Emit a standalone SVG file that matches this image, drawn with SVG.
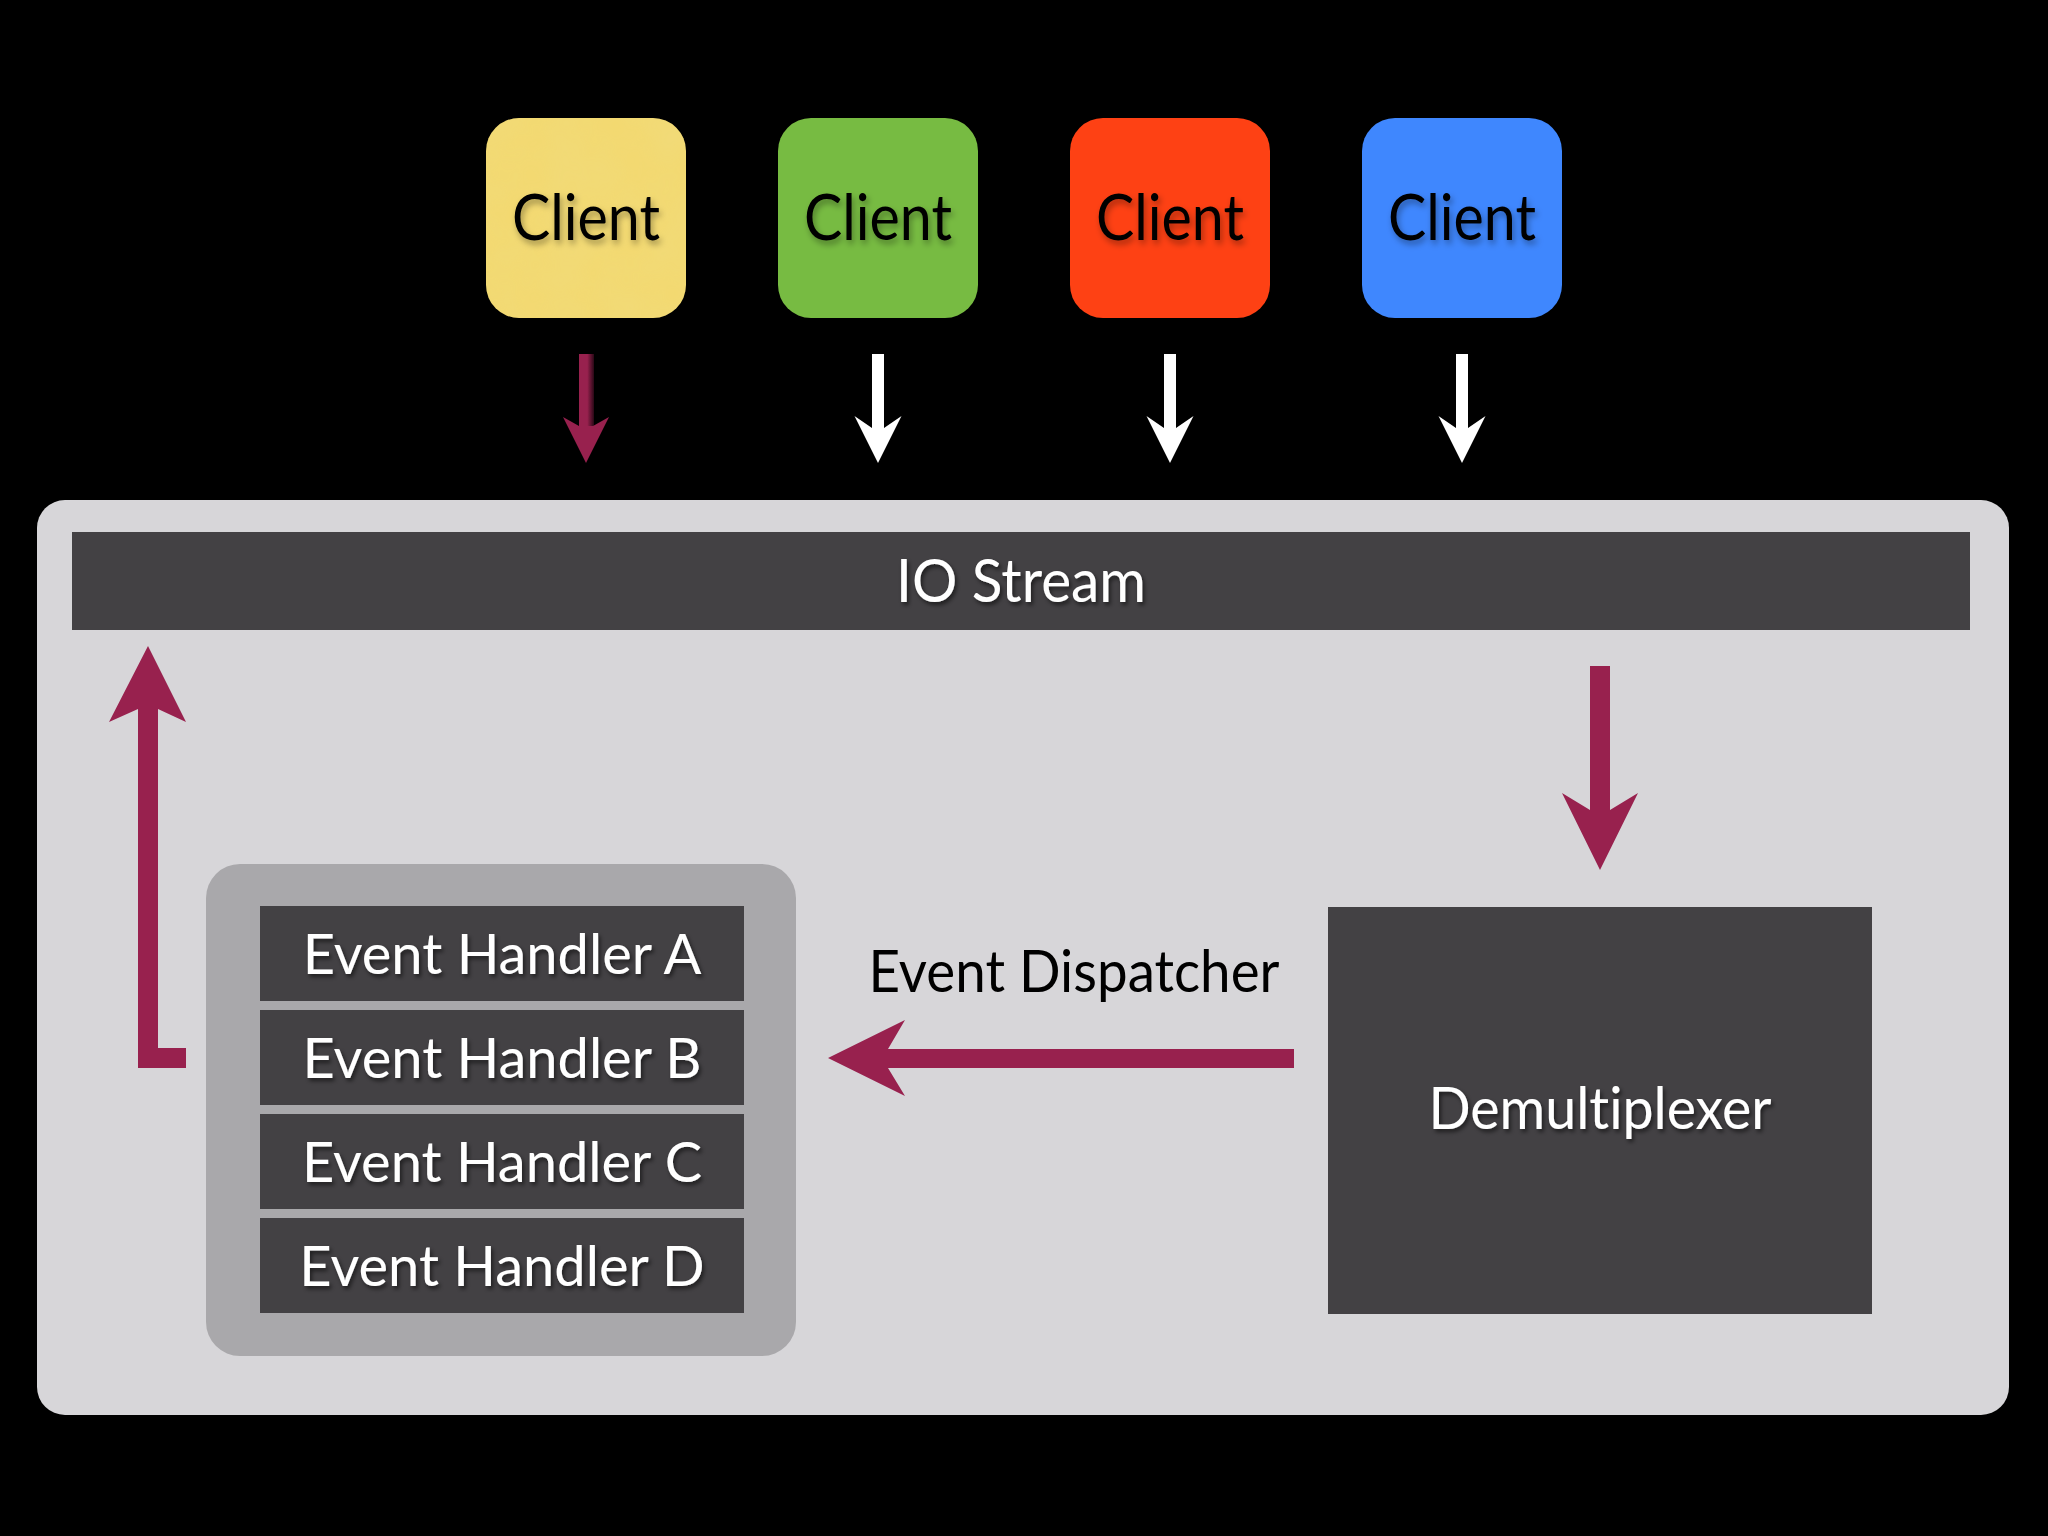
<svg xmlns="http://www.w3.org/2000/svg" xmlns:xlink="http://www.w3.org/1999/xlink" width="2048" height="1536" viewBox="0 0 2048 1536">
  <defs>
    <style>
      .bar { fill: #434144; }
      .lbl { font-family: Lato, "Open Sans", "Noto Sans", sans-serif; font-weight: 400; text-anchor: middle; font-variant-ligatures: none; font-feature-settings: "liga" 0, "clig" 0; }
      .white { fill: #ffffff; filter: url(#shadowW); }
      .client { fill: #000000; font-size: 63px; filter: url(#shadowK); }
      .handler { font-size: 56px; }
      .maroon { fill: #98214e; }
      .warrow { fill: #ffffff; }
    </style>
    <filter id="shadowW" x="-10%" y="-30%" width="120%" height="160%">
      <feDropShadow dx="2" dy="3" stdDeviation="2" flood-color="#000000" flood-opacity="0.55"/>
    </filter>
    <filter id="shadowK" x="-10%" y="-30%" width="120%" height="160%">
      <feDropShadow dx="2" dy="4" stdDeviation="3" flood-color="#000000" flood-opacity="0.35"/>
    </filter>
    <filter id="paper" x="0" y="0" width="100%" height="100%">
      <feTurbulence type="fractalNoise" baseFrequency="0.02" numOctaves="3" seed="4" result="n"/>
      <feColorMatrix in="n" type="matrix" values="0 0 0 0 0.85  0 0 0 0 0.72  0 0 0 0 0.25  0 0 0 0.35 -0.05" result="c"/>
      <feComposite in="c" in2="SourceGraphic" operator="in"/>
    </filter>
    <linearGradient id="fadeShaft" x1="0" y1="0" x2="1" y2="0">
      <stop offset="0" stop-color="#98214e"/>
      <stop offset="0.55" stop-color="#98214e"/>
      <stop offset="1" stop-color="#2a0816"/>
    </linearGradient>
    <path id="wArrow" class="warrow" d="M -6 354 L 6 354 L 6 428 L 23.5 416 L 0 463 L -23.5 416 L -6 428 Z"/>
  </defs>

  <rect x="0" y="0" width="2048" height="1536" fill="#000000"/>

  <!-- Clients -->
  <g id="client-yellow">
    <rect x="486" y="118" width="200" height="200" rx="33" fill="#f3d970"/>
    <rect x="486" y="118" width="200" height="200" rx="33" fill="#f3d970" filter="url(#paper)"/>
    <text class="lbl client" x="586" y="240" textLength="148" lengthAdjust="spacingAndGlyphs">Client</text>
  </g>
  <g id="client-green">
    <rect x="778" y="118" width="200" height="200" rx="33" fill="#77bb42"/>
    <text class="lbl client" x="878" y="240" textLength="148" lengthAdjust="spacingAndGlyphs">Client</text>
  </g>
  <g id="client-red">
    <rect x="1070" y="118" width="200" height="200" rx="33" fill="#fe4114"/>
    <text class="lbl client" x="1170" y="240" textLength="148" lengthAdjust="spacingAndGlyphs">Client</text>
  </g>
  <g id="client-blue">
    <rect x="1362" y="118" width="200" height="200" rx="33" fill="#3f87fe"/>
    <text class="lbl client" x="1462" y="240" textLength="148" lengthAdjust="spacingAndGlyphs">Client</text>
  </g>

  <!-- Main container -->
  <g id="server">
    <rect x="37" y="500" width="1972" height="915" rx="28" fill="#d7d6d9"/>
  </g>

  <g id="io-stream">
    <rect class="bar" x="72" y="532" width="1898" height="98"/>
    <text class="lbl white" x="1021" y="602" font-size="60" textLength="250" lengthAdjust="spacingAndGlyphs">IO Stream</text>
  </g>

  <g id="demultiplexer">
    <rect class="bar" x="1328" y="907" width="544" height="407"/>
    <text class="lbl white" x="1600" y="1129" font-size="58" textLength="343" lengthAdjust="spacingAndGlyphs">Demultiplexer</text>
  </g>

  <g id="handlers">
    <rect x="206" y="864" width="590" height="492" rx="34" fill="#a9a8ab"/>
    <g id="handler-a">
      <rect class="bar" x="260" y="906" width="484" height="95"/>
      <text class="lbl white handler" x="502" y="974">Event Handler A</text>
    </g>
    <g id="handler-b">
      <rect class="bar" x="260" y="1010" width="484" height="95"/>
      <text class="lbl white handler" x="502" y="1078">Event Handler B</text>
    </g>
    <g id="handler-c">
      <rect class="bar" x="260" y="1114" width="484" height="95"/>
      <text class="lbl white handler" x="502" y="1182">Event Handler C</text>
    </g>
    <g id="handler-d">
      <rect class="bar" x="260" y="1218" width="484" height="95"/>
      <text class="lbl white handler" x="502" y="1286">Event Handler D</text>
    </g>
  </g>

  <!-- Connectors -->
  <g id="connectors">
    <g id="arrow-client-yellow">
      <rect x="579" y="354" width="15" height="72" fill="url(#fadeShaft)"/>
      <path class="maroon" d="M 579 426 L 563 417 L 586 463 L 609 417 L 593 426 Z"/>
    </g>
    <use href="#wArrow" xlink:href="#wArrow" x="878" y="0"/>
    <use href="#wArrow" xlink:href="#wArrow" x="1170" y="0"/>
    <use href="#wArrow" xlink:href="#wArrow" x="1462" y="0"/>

    <path id="arrow-io-demux" class="maroon" d="M 1590 666 L 1610 666 L 1610 810 L 1638 793 L 1600 870 L 1562 793 L 1590 810 Z"/>
    <path id="arrow-demux-handlers" class="maroon" d="M 1294 1049 L 1294 1068 L 888 1068 L 905 1096 L 828 1058 L 905 1020 L 888 1049 Z"/>
    <path id="arrow-handlers-io" class="maroon" d="M 148 646 L 186 722 L 158 709 L 158 1048 L 186 1048 L 186 1068 L 138 1068 L 138 709 L 109 722 Z"/>
    <text id="label-event-dispatcher" class="lbl" x="1074" y="992" font-size="58" fill="#000000" textLength="411" lengthAdjust="spacingAndGlyphs">Event Dispatcher</text>
  </g>
</svg>
